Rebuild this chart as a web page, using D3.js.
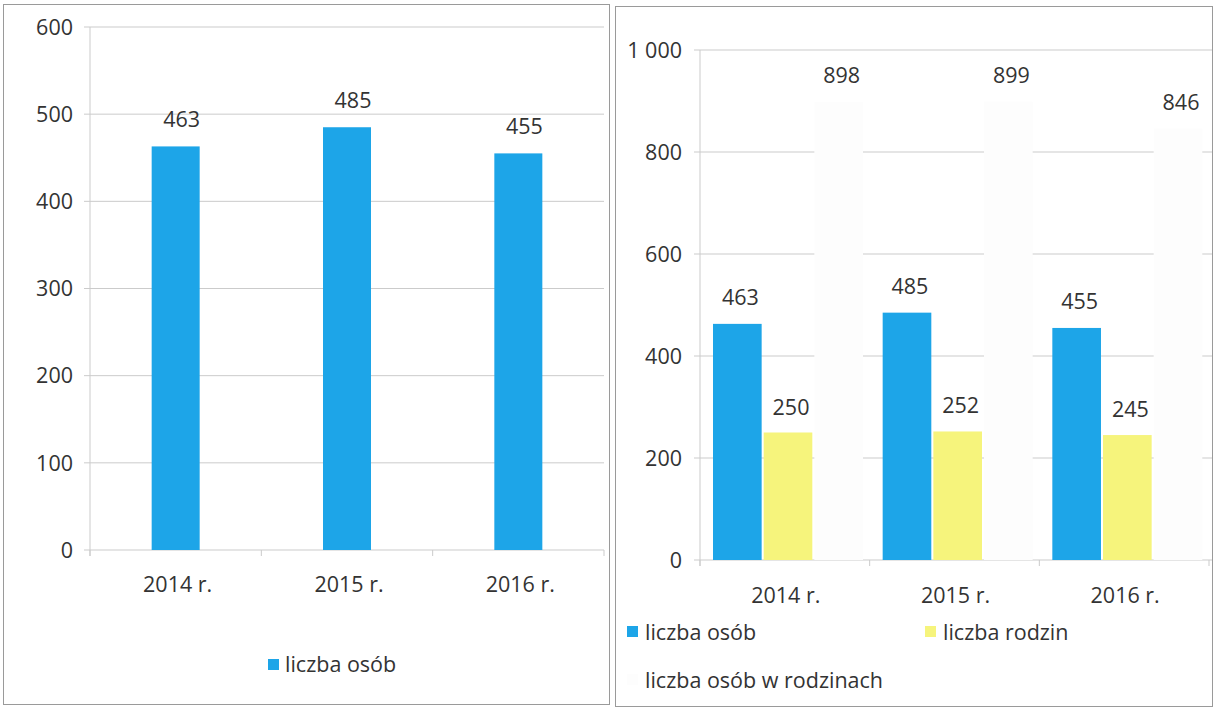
<!DOCTYPE html>
<html><head><meta charset="utf-8">
<script src="https://cdn.jsdelivr.net/npm/d3@7"></script>
<style>body{margin:0;background:#fff}svg{display:block}text{font-family:"Open Sans",sans-serif;fill:#333}</style>
</head><body><svg id="c" width="1215" height="710"></svg>
<script>
const categories = ["2014 r.", "2015 r.", "2016 r."];
const leftSeries = ["liczba osób"];
const leftValues = [463, 485, 455];
const leftTicks = [0, 100, 200, 300, 400, 500, 600];
const rightSeries = ["liczba osób", "liczba rodzin", "liczba osób w rodzinach"];
const osob = [463, 485, 455];
const rodzin = [250, 252, 245];
const osobWRodzinach = [898, 899, 846];
const rightTicks = [0, 200, 400, 600, 800, 1000];
const colors = ["#1da5e8", "#f6f47c", "#fdfdfd"];

const svg = d3.select("#c");
const fmt = d3.formatLocale({decimal: ",", thousands: " ", grouping: [3], currency: ["", ""]}).format(",");
const grid = "#cbcbcb";
const fs = 21.5;

// panels
svg.append("rect").attr("x", 3.5).attr("y", 4.5).attr("width", 606).attr("height", 700)
  .attr("fill", "none").attr("stroke", "#9a9a9a");
svg.append("rect").attr("x", 615.5).attr("y", 6.5).attr("width", 597).attr("height", 700)
  .attr("fill", "none").attr("stroke", "#9a9a9a");

// ---------- LEFT ----------
{
  const y = d3.scaleLinear().domain([0, 600]).range([550, 27]);
  const x = d3.scaleBand().domain(categories).range([90, 604]);
  const g = svg.append("g");
  g.append("g").selectAll("line").data(leftTicks).join("line")
    .attr("x1", 84).attr("x2", 604).attr("y1", d => y(d)).attr("y2", d => y(d))
    .attr("stroke", grid);
  g.append("line").attr("x1", 90).attr("x2", 90).attr("y1", y(600)).attr("y2", 556).attr("stroke", grid);
  g.append("g").selectAll("line").data([...categories.map(c => x(c)), 604]).join("line")
    .attr("x1", d => d).attr("x2", d => d).attr("y1", 550).attr("y2", 556).attr("stroke", grid);
  g.append("g").selectAll("text").data(leftTicks).join("text")
    .attr("x", 73).attr("y", d => y(d)).attr("dy", "0.36em").attr("text-anchor", "end")
    .attr("font-size", fs).text(d => d);
  const bw = 48;
  g.append("g").selectAll("rect").data(leftValues).join("rect")
    .attr("x", (d, i) => x(categories[i]) + x.bandwidth() / 2 - bw / 2)
    .attr("width", bw).attr("y", d => y(d)).attr("height", d => y(0) - y(d))
    .attr("fill", colors[0]);
  g.append("g").selectAll("text").data(leftValues).join("text")
    .attr("x", (d, i) => x(categories[i]) + x.bandwidth() / 2 + 6)
    .attr("y", d => y(d) - 19).attr("text-anchor", "middle").attr("font-size", fs).text(d => d);
  g.append("g").selectAll("text").data(categories).join("text")
    .attr("x", d => x(d) + x.bandwidth() / 2 + 2).attr("y", 592).attr("text-anchor", "middle")
    .attr("font-size", fs).text(d => d);
  g.append("rect").attr("x", 268).attr("y", 659).attr("width", 11).attr("height", 11).attr("fill", colors[0]);
  g.append("text").attr("x", 285).attr("y", 672).attr("font-size", fs).text(leftSeries[0]);
}

// ---------- RIGHT ----------
{
  const y = d3.scaleLinear().domain([0, 1000]).range([560, 50]);
  const x = d3.scaleBand().domain(categories).range([700, 1209]);
  const xs = d3.scaleBand().domain(rightSeries).range([13, 163]).paddingInner(0.04);
  const data = [osob, rodzin, osobWRodzinach];
  const g = svg.append("g");
  g.append("g").selectAll("line").data(rightTicks).join("line")
    .attr("x1", 694).attr("x2", 1212).attr("y1", d => y(d)).attr("y2", d => y(d))
    .attr("stroke", grid);
  g.append("line").attr("x1", 700).attr("x2", 700).attr("y1", y(1000)).attr("y2", 566).attr("stroke", grid);
  g.append("g").selectAll("line").data([...categories.map(c => x(c)), 1209]).join("line")
    .attr("x1", d => d).attr("x2", d => d).attr("y1", 560).attr("y2", 566).attr("stroke", grid);
  g.append("g").selectAll("text").data(rightTicks).join("text")
    .attr("x", 682).attr("y", d => y(d)).attr("dy", "0.36em").attr("text-anchor", "end")
    .attr("font-size", fs).text(d => fmt(d));
  rightSeries.forEach((s, si) => {
    g.append("g").selectAll("rect").data(data[si]).join("rect")
      .attr("x", (d, i) => x(categories[i]) + xs(s))
      .attr("width", xs.bandwidth()).attr("y", d => y(d)).attr("height", d => y(0) - y(d))
      .attr("fill", colors[si]);
    g.append("g").selectAll("text").data(data[si]).join("text")
      .attr("x", (d, i) => x(categories[i]) + xs(s) + xs.bandwidth() / 2 + 3)
      .attr("y", d => y(d) - (si === 1 ? 18 : 19)).attr("text-anchor", "middle")
      .attr("font-size", fs).text(d => d);
  });
  g.append("g").selectAll("text").data(categories).join("text")
    .attr("x", d => x(d) + x.bandwidth() / 2 + 1).attr("y", 603).attr("text-anchor", "middle")
    .attr("font-size", fs).text(d => d);
  const leg = [[627, 626, 645, 640], [925, 626, 943, 640], [627, 674, 645, 688]];
  rightSeries.forEach((s, si) => {
    const [sx, sy, tx, ty] = leg[si];
    g.append("rect").attr("x", sx).attr("y", sy).attr("width", 11).attr("height", 11).attr("fill", colors[si]);
    g.append("text").attr("x", tx).attr("y", ty).attr("font-size", fs).text(s);
  });
}
</script></body></html>
